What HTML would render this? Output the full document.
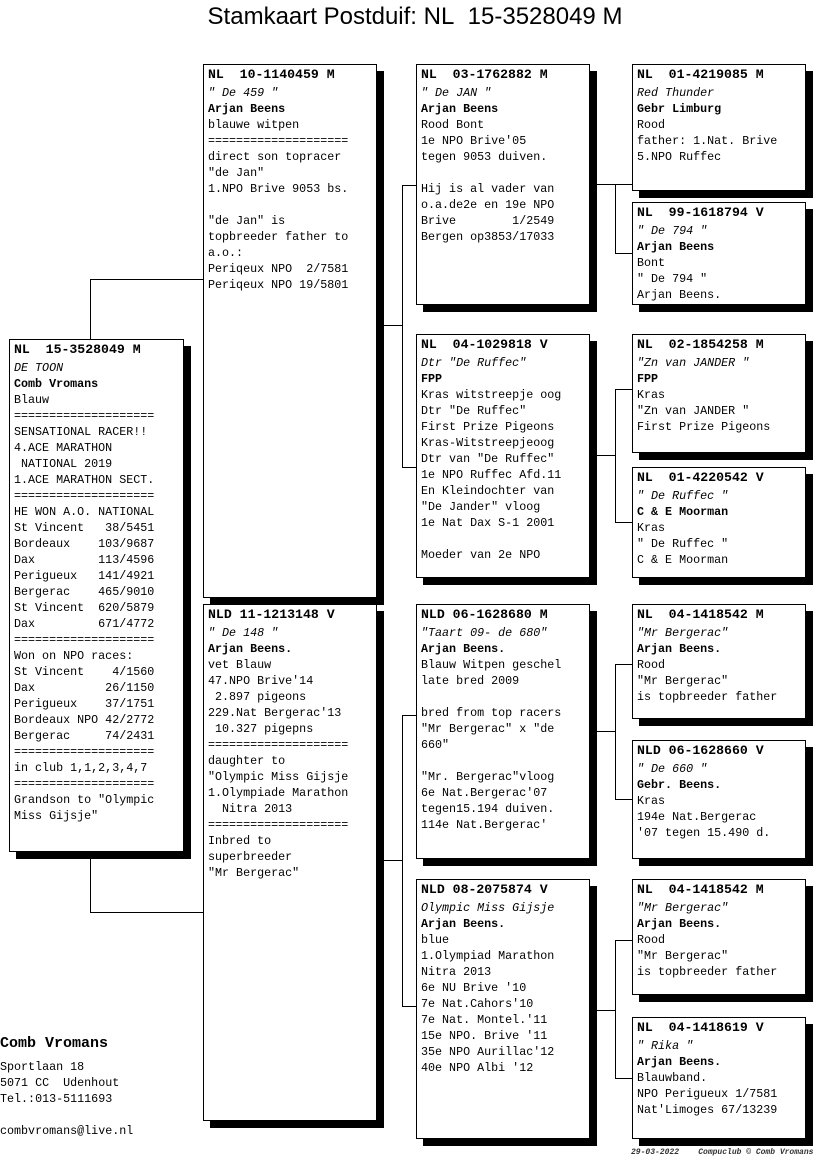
<!DOCTYPE html>
<html><head><meta charset="utf-8"><style>
body{margin:0;width:816px;height:1172px;background:#fff;position:relative;overflow:hidden;font-family:"Liberation Mono",monospace;color:#000}
.t{position:absolute;left:0;width:830px;top:3px;text-align:center;font-family:"Liberation Sans",sans-serif;font-size:24px}
.b{position:absolute;background:#fff;border:1px solid #000;box-shadow:7px 7px 0 #000;box-sizing:border-box;padding:0 0 0 4px;font-size:11.7px;line-height:16px;white-space:pre;overflow:hidden}
.b .h{font-weight:bold;font-size:13.2px;line-height:20px;height:20px}
.i{font-style:italic}.k{font-weight:bold}
.l{position:absolute;background:#000}
.ad{position:absolute;left:0;font-size:11.7px;line-height:16px;white-space:pre}
</style></head><body>
<div class="t">Stamkaart Postduif: NL&nbsp; 15-3528049 M</div>

<div class="l" style="left:90px;top:279px;width:1px;height:60px"></div>
<div class="l" style="left:90px;top:279px;width:113px;height:1px"></div>
<div class="l" style="left:90px;top:858px;width:1px;height:54px"></div>
<div class="l" style="left:90px;top:912px;width:113px;height:1px"></div>

<div class="l" style="left:383px;top:325px;width:19px;height:1px"></div>
<div class="l" style="left:402px;top:185px;width:1px;height:282px"></div>
<div class="l" style="left:402px;top:185px;width:14px;height:1px"></div>
<div class="l" style="left:402px;top:467px;width:14px;height:1px"></div>

<div class="l" style="left:383px;top:860px;width:19px;height:1px"></div>
<div class="l" style="left:402px;top:715px;width:1px;height:291px"></div>
<div class="l" style="left:402px;top:715px;width:14px;height:1px"></div>
<div class="l" style="left:402px;top:1006px;width:14px;height:1px"></div>

<div class="l" style="left:596px;top:184px;width:19px;height:1px"></div>
<div class="l" style="left:615px;top:184px;width:1px;height:69px"></div>
<div class="l" style="left:615px;top:184px;width:17px;height:1px"></div>
<div class="l" style="left:615px;top:253px;width:17px;height:1px"></div>

<div class="l" style="left:596px;top:455px;width:19px;height:1px"></div>
<div class="l" style="left:615px;top:389px;width:1px;height:133px"></div>
<div class="l" style="left:615px;top:389px;width:17px;height:1px"></div>
<div class="l" style="left:615px;top:522px;width:17px;height:1px"></div>

<div class="l" style="left:596px;top:731px;width:19px;height:1px"></div>
<div class="l" style="left:615px;top:664px;width:1px;height:135px"></div>
<div class="l" style="left:615px;top:664px;width:17px;height:1px"></div>
<div class="l" style="left:615px;top:799px;width:17px;height:1px"></div>

<div class="l" style="left:596px;top:1010px;width:19px;height:1px"></div>
<div class="l" style="left:615px;top:940px;width:1px;height:138px"></div>
<div class="l" style="left:615px;top:940px;width:17px;height:1px"></div>
<div class="l" style="left:615px;top:1078px;width:17px;height:1px"></div>

<div class="b" style="left:9px;top:339px;width:175px;height:513px"><div class="h">NL  15-3528049 M</div><div class="i">DE TOON</div><div class="k">Comb Vromans</div>Blauw
====================
SENSATIONAL RACER!!
4.ACE MARATHON
 NATIONAL 2019
1.ACE MARATHON SECT.
====================
HE WON A.O. NATIONAL
St Vincent   38/5451
Bordeaux    103/9687
Dax         113/4596
Perigueux   141/4921
Bergerac    465/9010
St Vincent  620/5879
Dax         671/4772
====================
Won on NPO races:
St Vincent    4/1560
Dax          26/1150
Perigueux    37/1751
Bordeaux NPO 42/2772
Bergerac     74/2431
====================
in club 1,1,2,3,4,7
====================
Grandson to "Olympic
Miss Gijsje"</div>

<div class="b" style="left:203px;top:64px;width:174px;height:534px"><div class="h">NL  10-1140459 M</div><div class="i">" De 459 "</div><div class="k">Arjan Beens</div>blauwe witpen
====================
direct son topracer
"de Jan"
1.NPO Brive 9053 bs.

"de Jan" is
topbreeder father to
a.o.:
Periqeux NPO  2/7581
Periqeux NPO 19/5801</div>

<div class="b" style="left:203px;top:604px;width:174px;height:517px"><div class="h">NLD 11-1213148 V</div><div class="i">" De 148 "</div><div class="k">Arjan Beens.</div>vet Blauw
47.NPO Brive'14
 2.897 pigeons
229.Nat Bergerac'13
 10.327 pigepns
====================
daughter to
"Olympic Miss Gijsje
1.Olympiade Marathon
  Nitra 2013
====================
Inbred to
superbreeder
"Mr Bergerac"</div>

<div class="b" style="left:416px;top:64px;width:174px;height:241px"><div class="h">NL  03-1762882 M</div><div class="i">" De JAN "</div><div class="k">Arjan Beens</div>Rood Bont
1e NPO Brive'05
tegen 9053 duiven.

Hij is al vader van
o.a.de2e en 19e NPO
Brive        1/2549
Bergen op3853/17033</div>

<div class="b" style="left:416px;top:334px;width:174px;height:244px"><div class="h">NL  04-1029818 V</div><div class="i">Dtr "De Ruffec"</div><div class="k">FPP</div>Kras witstreepje oog
Dtr "De Ruffec"
First Prize Pigeons
Kras-Witstreepjeoog
Dtr van "De Ruffec"
1e NPO Ruffec Afd.11
En Kleindochter van
"De Jander" vloog
1e Nat Dax S-1 2001

Moeder van 2e NPO</div>

<div class="b" style="left:416px;top:604px;width:174px;height:255px"><div class="h">NLD 06-1628680 M</div><div class="i">"Taart 09- de 680"</div><div class="k">Arjan Beens.</div>Blauw Witpen geschel
late bred 2009

bred from top racers
"Mr Bergerac" x "de
660"

"Mr. Bergerac"vloog
6e Nat.Bergerac'07
tegen15.194 duiven.
114e Nat.Bergerac'</div>

<div class="b" style="left:416px;top:879px;width:174px;height:260px"><div class="h">NLD 08-2075874 V</div><div class="i">Olympic Miss Gijsje</div><div class="k">Arjan Beens.</div>blue
1.Olympiad Marathon
Nitra 2013
6e NU Brive '10
7e Nat.Cahors'10
7e Nat. Montel.'11
15e NPO. Brive '11
35e NPO Aurillac'12
40e NPO Albi '12</div>

<div class="b" style="left:632px;top:64px;width:174px;height:127px"><div class="h">NL  01-4219085 M</div><div class="i">Red Thunder</div><div class="k">Gebr Limburg</div>Rood
father: 1.Nat. Brive
5.NPO Ruffec</div>

<div class="b" style="left:632px;top:202px;width:174px;height:103px"><div class="h">NL  99-1618794 V</div><div class="i">" De 794 "</div><div class="k">Arjan Beens</div>Bont
" De 794 "
Arjan Beens.</div>

<div class="b" style="left:632px;top:334px;width:174px;height:119px"><div class="h">NL  02-1854258 M</div><div class="i">"Zn van JANDER "</div><div class="k">FPP</div>Kras
"Zn van JANDER "
First Prize Pigeons</div>

<div class="b" style="left:632px;top:467px;width:174px;height:111px"><div class="h">NL  01-4220542 V</div><div class="i">" De Ruffec "</div><div class="k">C &amp; E Moorman</div>Kras
" De Ruffec "
C &amp; E Moorman</div>

<div class="b" style="left:632px;top:604px;width:174px;height:115px"><div class="h">NL  04-1418542 M</div><div class="i">"Mr Bergerac"</div><div class="k">Arjan Beens.</div>Rood
"Mr Bergerac"
is topbreeder father</div>

<div class="b" style="left:632px;top:740px;width:174px;height:119px"><div class="h">NLD 06-1628660 V</div><div class="i">" De 660 "</div><div class="k">Gebr. Beens.</div>Kras
194e Nat.Bergerac
'07 tegen 15.490 d.</div>

<div class="b" style="left:632px;top:879px;width:174px;height:116px"><div class="h">NL  04-1418542 M</div><div class="i">"Mr Bergerac"</div><div class="k">Arjan Beens.</div>Rood
"Mr Bergerac"
is topbreeder father</div>

<div class="b" style="left:632px;top:1017px;width:174px;height:122px"><div class="h">NL  04-1418619 V</div><div class="i">" Rika "</div><div class="k">Arjan Beens.</div>Blauwband.
NPO Perigueux 1/7581
Nat'Limoges 67/13239</div>

<div class="ad" style="top:1034px;font-weight:bold;font-size:15px;line-height:20px">Comb Vromans</div>
<div class="ad" style="top:1059px">Sportlaan 18
5071 CC  Udenhout
Tel.:013-5111693

combvromans@live.nl</div>
<div style="position:absolute;left:631px;top:1148px;font-size:8px;font-style:italic;font-weight:bold;white-space:pre;color:#333;z-index:5">29-03-2022    Compuclub © Comb Vromans</div>
</body></html>
